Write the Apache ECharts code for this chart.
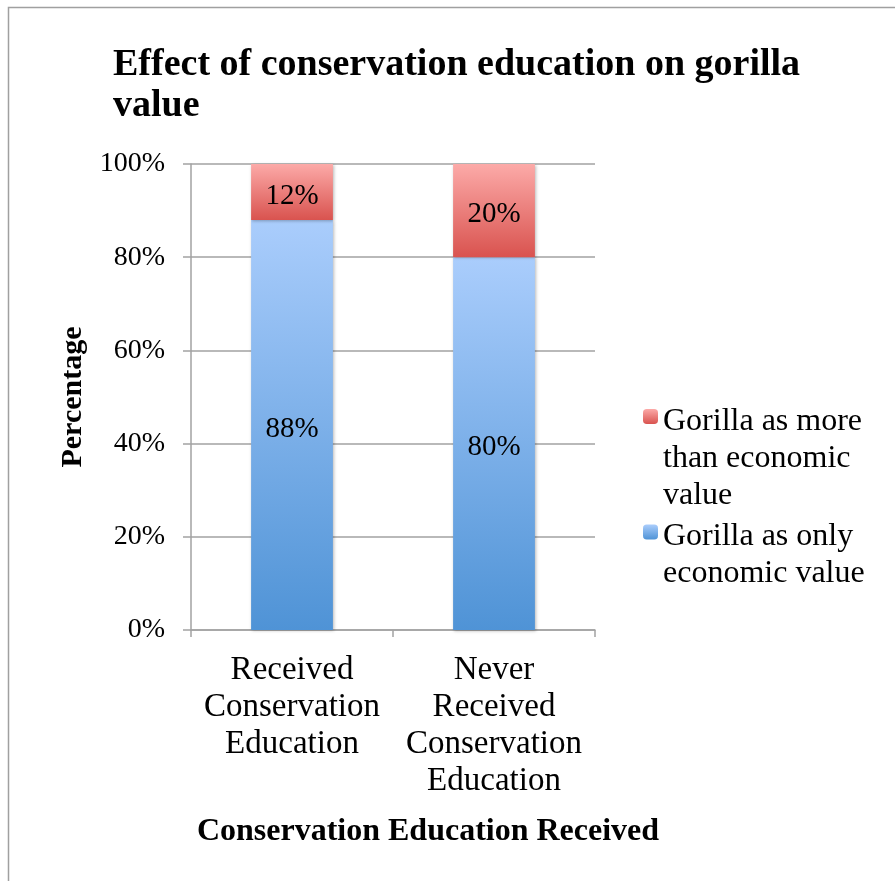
<!DOCTYPE html>
<html>
<head>
<meta charset="utf-8">
<script src="https://cdn.jsdelivr.net/npm/echarts@6/dist/echarts.min.js"></script>
<style>
  html, body { margin: 0; padding: 0; background: #fff; }
  #chart { width: 895px; height: 881px; }
</style>
</head>
<body>
<div id="chart"></div>
<script>
// Survey groups and the share of answers in each group
const categories = ['Received\nConservation\nEducation', 'Never\nReceived\nConservation\nEducation'];
const onlyEconomic = [88, 80];
const moreThanEconomic = [12, 20];
const yTicks = { min: 0, max: 100, interval: 20 };

const seriesNames = {
  more: 'Gorilla as more than economic value',
  only: 'Gorilla as only economic value'
};
// Legend entries wrap over several lines; the marker sits beside the first line
const legendLines = {
  [seriesNames.more]: ['Gorilla as more', 'than economic', 'value'],
  [seriesNames.only]: ['Gorilla as only', 'economic value']
};

const FONT = '"Liberation Serif", "Times New Roman", serif';
const AXIS_GREY = '#a2a2a2';
const LEG_LH = 37;
const LEG_SHIFT = 10;

function vGrad(top, bottom) {
  return new echarts.graphic.LinearGradient(0, 0, 0, 1, [
    { offset: 0, color: top },
    { offset: 1, color: bottom }
  ]);
}

// A spacer line on top pushes the text block down so its first line lines up with the marker
function legendItem(name, top) {
  const lines = legendLines[name];
  const spacer = (lines.length - 1) * LEG_LH + LEG_SHIFT;
  return {
    data: [name],
    left: 643,
    top: top,
    padding: 0,
    itemWidth: 15,
    itemHeight: 15,
    itemGap: 0,
    formatter: () => '{s| }\n' + lines.map(l => '{t|' + l + '}').join('\n'),
    textStyle: {
      fontFamily: FONT, fontSize: 32, color: '#000',
      rich: {
        s: { fontSize: 10, lineHeight: spacer },
        t: { fontFamily: FONT, fontSize: 32, lineHeight: LEG_LH, color: '#000' }
      }
    }
  };
}

const barShadow = {
  shadowColor: 'rgba(0,0,0,0.28)',
  shadowBlur: 3,
  shadowOffsetX: 1,
  shadowOffsetY: 1
};

const valueLabel = {
  show: true,
  position: 'inside',
  offset: [0, 4],
  formatter: '{c}%',
  fontFamily: FONT, fontSize: 29, color: '#000'
};

const chart = echarts.init(document.getElementById('chart'), null, { renderer: 'canvas' });

chart.setOption({
  backgroundColor: '#ffffff',
  animation: false,
  title: {
    text: 'Effect of conservation education on gorilla\nvalue',
    left: 113,
    top: 45,
    padding: 0,
    textStyle: {
      fontFamily: FONT,
      fontSize: 38,
      fontWeight: 'bold',
      lineHeight: 41,
      color: '#000'
    }
  },
  graphic: [{
    type: 'rect',
    shape: { x: 8.5, y: 7.5, width: 1000, height: 1000 },
    style: { fill: 'none', stroke: '#a0a0a0', lineWidth: 1.5 },
    silent: true
  }],
  legend: [
    legendItem(seriesNames.more, 356),
    legendItem(seriesNames.only, 490)
  ],
  grid: {
    left: 191,
    right: 300,
    top: 164,
    bottom: 251,
    containLabel: false
  },
  xAxis: {
    type: 'category',
    data: categories,
    name: 'Conservation Education Received',
    nameLocation: 'middle',
    nameGap: 184,
    nameTextStyle: {
      fontFamily: FONT, fontSize: 32, fontWeight: 'bold', color: '#000',
      lineHeight: 36, padding: [0, 0, 0, 70]
    },
    axisLine: { show: true, lineStyle: { color: AXIS_GREY, width: 1.5 } },
    axisTick: { show: true, length: 7, alignWithLabel: false, lineStyle: { color: AXIS_GREY, width: 1.5 } },
    axisLabel: {
      interval: 0,
      margin: 22,
      fontFamily: FONT, fontSize: 33, lineHeight: 37, color: '#000', align: 'center'
    },
    splitLine: { show: false }
  },
  yAxis: {
    type: 'value',
    min: yTicks.min,
    max: yTicks.max,
    interval: yTicks.interval,
    name: 'Percentage',
    nameLocation: 'middle',
    nameGap: 100,
    nameTextStyle: {
      fontFamily: FONT, fontSize: 30, fontWeight: 'bold', color: '#000', lineHeight: 36
    },
    axisLine: { show: true, lineStyle: { color: AXIS_GREY, width: 1.5 } },
    axisTick: { show: true, length: 8, lineStyle: { color: AXIS_GREY, width: 1.5 } },
    axisLabel: {
      margin: 26,
      formatter: '{value}%',
      fontFamily: FONT, fontSize: 28, color: '#000'
    },
    splitLine: { show: true, lineStyle: { color: AXIS_GREY, width: 1.5 } }
  },
  series: [{
    name: seriesNames.only,
    type: 'bar',
    stack: 'total',
    barWidth: '40.5%',
    data: onlyEconomic,
    itemStyle: Object.assign({ color: vGrad('#aacdfc', '#4f93d6') }, barShadow),
    label: valueLabel
  }, {
    name: seriesNames.more,
    type: 'bar',
    stack: 'total',
    barWidth: '40.5%',
    data: moreThanEconomic,
    itemStyle: Object.assign({ color: vGrad('#fcaaa8', '#d9534f') }, barShadow),
    label: valueLabel
  }]
});
</script>
</body>
</html>
